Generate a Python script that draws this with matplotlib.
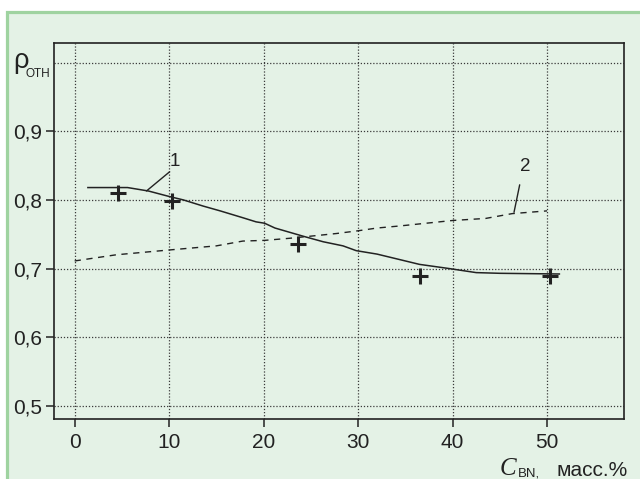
import matplotlib
matplotlib.use('Agg')
import matplotlib.pyplot as plt
import matplotlib.patches as patches
from matplotlib.ticker import FuncFormatter

plt.rcParams['font.family'] = ['Liberation Sans', 'DejaVu Sans']

## Curve 1: relative density vs BN content (solid)
x1 = [1.4, 5.6, 7.8, 10.0, 11.5, 13.6, 15.4, 17.8, 19.2, 20.1, 21.2, 24.2,
      26.3, 28.4, 29.8, 32.0, 34.4, 36.5, 39.6, 42.5, 45.0, 51.3]
y1 = [0.818, 0.818, 0.813, 0.805, 0.800, 0.791, 0.784, 0.774, 0.768, 0.766,
      0.759, 0.747, 0.739, 0.733, 0.726, 0.721, 0.713, 0.706, 0.700, 0.694,
      0.693, 0.692]

## Curve 2 (dashed)
x2 = [0.0, 4.4, 10.0, 15.0, 17.8, 20.1, 22.7, 25.6, 27.7, 30.0, 32.0, 34.4,
      36.5, 40.0, 43.5, 46.3, 50.0]
y2 = [0.711, 0.720, 0.727, 0.733, 0.740, 0.741, 0.744, 0.748, 0.751, 0.755,
      0.759, 0.762, 0.765, 0.770, 0.773, 0.780, 0.784]

## Measured points
xm = [4.6, 10.25, 23.6, 36.5, 50.3]
ym = [0.8105, 0.799, 0.735, 0.689, 0.689]

## Curve labels and their leader lines
curve_labels = ['1', '2']
label_xy = [(10.6, 0.856), (47.7, 0.848)]
leader_from = [(10.05, 0.841), (47.1, 0.822)]
leader_to = [(7.6, 0.813), (46.5, 0.782)]

xticks = [0, 10, 20, 30, 40, 50]
yticks = [0.5, 0.6, 0.7, 0.8, 0.9]
ygrid = [0.5, 0.6, 0.7, 0.8, 0.9, 1.0]

W, H = 640, 479
bg = '#e4f2e6'
ink = '#222222'

fig = plt.figure(figsize=(W / 100, H / 100), dpi=100)
fig.patch.set_facecolor('white')
frame = patches.Rectangle((7 / W, -0.1), 1.2, 1.1 - 12 / H,
                          transform=fig.transFigure, facecolor=bg,
                          edgecolor='#9fd3a0', lw=2.3, zorder=-5)
fig.patches.append(frame)

ax = fig.add_axes([54.3 / W, (H - 419) / H, (624 - 54.3) / W, (419 - 43.3) / H])
ax.set_zorder(2)
ax.set_facecolor('none')
ax.set_xlim(-2.155, 58.14)
ax.set_ylim(0.4806, 1.0283)

for gx in xticks:
    ax.axvline(gx, color='#3a3a3a', lw=0.9, ls=(0, (1, 1.5)), zorder=1)
for gy in ygrid:
    ax.axhline(gy, color='#3a3a3a', lw=0.9, ls=(0, (1, 1.5)), zorder=1)

ax.plot(x1, y1, color=ink, lw=1.1, zorder=3)
ax.plot(x2, y2, color=ink, lw=1.0, ls=(0, (4.5, 4)), zorder=3)
ax.plot(xm, ym, ls='', marker='+', ms=11, mew=2.2, color=ink, zorder=4)

for lab, pos, p0, p1 in zip(curve_labels, label_xy, leader_from, leader_to):
    ax.text(pos[0], pos[1], lab, fontsize=13.5, color=ink, ha='center', va='center')
    ax.annotate('', xy=p1, xytext=p0,
                arrowprops=dict(arrowstyle='-', lw=1.0, color=ink,
                                shrinkA=0, shrinkB=0))

ax.set_xticks(xticks)
ax.set_yticks(yticks)
ax.yaxis.set_major_formatter(FuncFormatter(lambda v, p: ('%.1f' % v).replace('.', ',')))
ax.tick_params(direction='out', length=5.5, width=1.1, colors=ink,
               labelsize=15, pad=3)
ax.tick_params(axis='x', pad=4.5)
for s in ax.spines.values():
    s.set_color(ink)
    s.set_linewidth(1.2)

# axis captions
fig.text(13 / W, 1 - 67.5 / H, 'ρ', fontsize=19.5, color=ink, ha='left', va='baseline')
fig.text(25.5 / W, 1 - 77 / H, 'ОТН', fontsize=8.5, color=ink, ha='left', va='baseline')

fig.text(500 / W, 1 - 475 / H, 'C', fontsize=18, color=ink, family='Liberation Serif',
         style='italic', ha='left', va='baseline')
fig.text(518 / W, 1 - 477 / H, 'BN,', fontsize=9.5, color=ink, ha='left', va='baseline')
fig.text(557 / W, 1 - 476 / H, 'масс.%', fontsize=15, color=ink, ha='left', va='baseline')

fig.savefig('out.png', dpi=100, facecolor=fig.get_facecolor())
